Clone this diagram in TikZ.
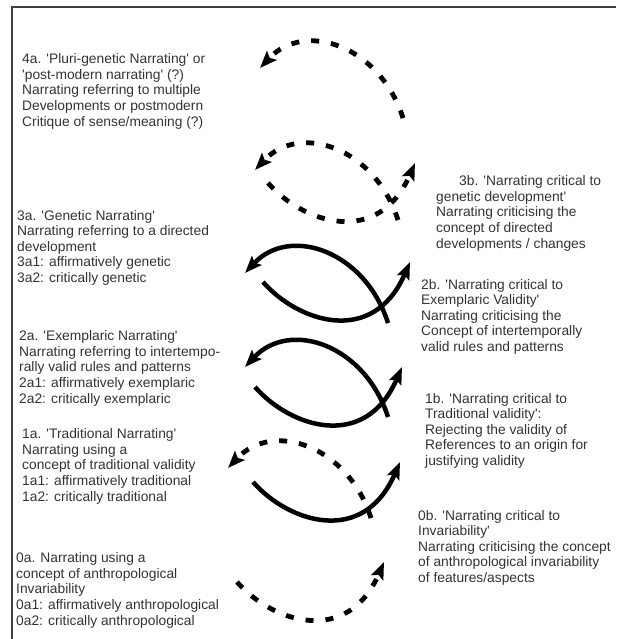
\documentclass[tikz,border=0pt]{standalone}
\usepackage{fontspec}
\setmainfont{Liberation Sans}
\usepackage{xcolor}
\usepackage{tikz}
\usetikzlibrary{arrows.meta}
\newcommand{\qt}{\textquotesingle}

\begin{document}
\begin{tikzpicture}[
    x=1pt, y=-1pt,
    txt/.style={anchor=north west, inner sep=0pt, align=left, text=black!80, font=\fontsize{13.8}{15.6}\selectfont},
    solidarc/.style={line width=4.5pt, -{Stealth[length=17pt, width=13pt, inset=3pt]}},
    dasharc/.style={solidarc, line width=4.8pt, dash pattern=on 8pt off 12pt},
    edgeline/.style={draw=black!75, line width=1.2pt}
]
    \useasboundingbox (0,0) rectangle (616,639);

    \coordinate (corner) at (12,7);
    \draw[edgeline] (12,639) -- (corner) -- (616,7);

    \node[txt] (n4a) at (22,53.5) {4a. \qt Pluri-genetic Narrating\qt{} or\\
        \qt post-modern narrating\qt{} (?)\\
        Narrating referring to multiple\\
        Developments or postmodern\\
        Critique of sense/meaning (?)};
    \node[txt] (n3b) at (436,175.5) {\hspace*{23pt}3b. \qt Narrating critical to\\
        genetic development\qt\\
        Narrating criticising the\\
        concept of directed\\
        developments / changes};
    \node[txt] (n3a) at (17,209.8) {3a. \qt Genetic Narrating\qt\\
        Narrating referring to a directed\\
        development\\
        3a1: affirmatively genetic\\
        3a2: critically genetic};
    \node[txt] (n2b) at (421,278.8) {2b. \qt Narrating critical to\\
        Exemplaric Validity\qt\\
        Narrating criticising the\\
        Concept of intertemporally\\
        valid rules and patterns};
    \node[txt] (n2a) at (19,330.5) {2a. \qt Exemplaric Narrating\qt\\
        Narrating referring to intertempo-\\
        rally valid rules and patterns\\
        2a1: affirmatively exemplaric\\
        2a2: critically exemplaric};
    \node[txt] (n1b) at (425,392.8) {1b. \qt Narrating critical to\\
        Traditional validity\qt :\\
        Rejecting the validity of\\
        References to an origin for\\
        justifying validity};
    \node[txt] (n1a) at (22,428.5) {1a. \qt Traditional Narrating\qt\\
        Narrating using a\\
        concept of traditional validity\\
        1a1: affirmatively traditional\\
        1a2: critically traditional};
    \node[txt] (n0b) at (418,509.8) {0b. \qt Narrating critical to\\
        Invariability\qt\\
        Narrating criticising the concept\\
        of anthropological invariability\\
        of features/aspects};
    \node[txt] (n0a) at (16,552.5) {0a. Narrating using a\\
        concept of anthropological\\
        Invariability\\
        0a1: affirmatively anthropological\\
        0a2: critically anthropological};

    \draw[dasharc, shift={(260,68)}] (143,50) .. controls (120,-22) and (45,-48) .. (0,0);
    \draw[dasharc, shift={(255,170)}] (143,50) .. controls (120,-22) and (45,-48) .. (0,0);
    \draw[dasharc, shift={(268,183)}] (0,0) .. controls (35,40) and (110,65) .. (147,-20);
    \draw[solidarc, shift={(245,273)}] (143,50) .. controls (120,-22) and (45,-48) .. (0,0);
    \draw[solidarc, shift={(263,282)}] (0,0) .. controls (35,40) and (110,65) .. (147,-20);
    \draw[solidarc, shift={(245,367)}] (143,50) .. controls (120,-22) and (45,-48) .. (0,0);
    \draw[solidarc, shift={(255,387)}] (0,0) .. controls (35,40) and (110,65) .. (147,-20);
    \draw[dasharc, shift={(228,468)}] (143,50) .. controls (120,-22) and (45,-48) .. (0,0);
    \draw[solidarc, shift={(253,482)}] (0,0) .. controls (35,40) and (110,65) .. (147,-20);
    \draw[dasharc, shift={(237,582)}] (0,0) .. controls (35,40) and (110,65) .. (147,-20);
\end{tikzpicture}
\end{document}
